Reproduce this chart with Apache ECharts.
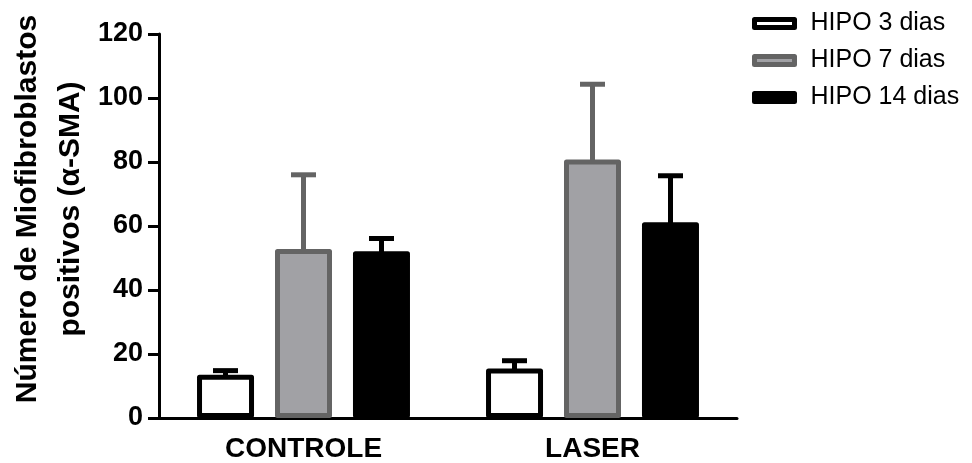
<!DOCTYPE html>
<html>
<head>
<meta charset="utf-8">
<script src="https://cdn.jsdelivr.net/npm/echarts@6/dist/echarts.min.js"></script>
<style>
  html, body { margin: 0; padding: 0; background: #ffffff; }
  #chart { width: 972px; height: 463px; }
</style>
</head>
<body>
<div id="chart"></div>
<script>
// Groups and series (mean + standard deviation)
const categories = ['CONTROLE', 'LASER'];
const seriesNames = ['HIPO 3 dias', 'HIPO 7 dias', 'HIPO 14 dias'];
const hipo3Mean = [13.5, 15.5];
const hipo3Sd = [1.3, 2.4];
const hipo7Mean = [52.8, 80.8];
const hipo7Sd = [23.2, 23.5];
const hipo14Mean = [52.1, 61.2];
const hipo14Sd = [4.0, 14.5];
const yTicks = [0, 20, 40, 60, 80, 100, 120];

const FONT = '"Liberation Sans", Arial, Helvetica, sans-serif';
const BAR_W = 57;
const STROKE = 5;
const barOffsets = [-78, 0, 78];

const fills = ['#ffffff', '#a1a1a5', '#000000'];
const borders = ['#000000', '#646464', '#000000'];
const means = [hipo3Mean, hipo7Mean, hipo14Mean];
const sds = [hipo3Sd, hipo7Sd, hipo14Sd];

const chart = echarts.init(document.getElementById('chart'), null, { renderer: 'canvas' });

const barSeries = seriesNames.map((name, i) => ({
  name: name,
  type: 'bar',
  barWidth: BAR_W,
  barGap: (21 / BAR_W * 100).toFixed(1) + '%',
  z: 3,
  itemStyle: {
    color: fills[i],
    borderColor: borders[i],
    borderWidth: STROKE,
    borderJoin: 'round'
  },
  emphasis: { disabled: true },
  data: means[i]
}));

// Upper error bars (mean to mean + SD, with a cap)
const errorSeries = seriesNames.map((name, i) => ({
  name: name + ' SD',
  type: 'custom',
  z: 2,
  silent: true,
  data: categories.map((c, k) => [k, means[i][k], sds[i][k]]),
  renderItem: function (params, api) {
    const k = api.value(0);
    const m = api.value(1);
    const s = api.value(2);
    const base = api.coord([k, m]);
    const top = api.coord([k, m + s]);
    const x = base[0] + barOffsets[i];
    const st = { stroke: borders[i], lineWidth: STROKE };
    return {
      type: 'group',
      children: [
        { type: 'line', shape: { x1: x, y1: base[1] + 3, x2: x, y2: top[1] }, style: st },
        { type: 'line', shape: { x1: x - 12.5, y1: top[1], x2: x + 12.5, y2: top[1] }, style: st }
      ]
    };
  }
}));

chart.setOption({
  animation: false,
  backgroundColor: '#ffffff',
  textStyle: { fontFamily: FONT },
  grid: { left: 159, right: 235, top: 34, bottom: 43, containLabel: false },
  legend: {
    data: seriesNames,
    orient: 'vertical',
    left: 747,
    top: 6,
    itemWidth: 40,
    itemHeight: 8,
    itemGap: 12,
    icon: 'rect',
    selectedMode: false,
    itemStyle: { borderWidth: STROKE },
    textStyle: {
      fontFamily: FONT,
      fontSize: 25,
      lineHeight: 25,
      color: '#000000',
      padding: [0, 0, 0, 11]
    }
  },
  graphic: [{
    type: 'text',
    x: 49,
    y: 209,
    rotation: Math.PI / 2,
    style: {
      text: 'Número de Miofibroblastos\npositivos (α-SMA)',
      font: 'bold 30px ' + FONT,
      fill: '#000000',
      align: 'center',
      verticalAlign: 'middle',
      lineHeight: 43
    }
  }],
  xAxis: {
    type: 'category',
    data: categories,
    boundaryGap: true,
    axisLine: { lineStyle: { color: '#000000', width: 3 } },
    axisTick: { alignWithLabel: true, length: 10, lineStyle: { color: '#000000', width: 3 } },
    axisLabel: { color: '#000000', fontFamily: FONT, fontWeight: 'bold', fontSize: 28, margin: 17 }
  },
  yAxis: {
    type: 'value',
    min: yTicks[0],
    max: yTicks[yTicks.length - 1],
    interval: yTicks[1] - yTicks[0],
    splitLine: { show: false },
    axisLine: { show: true, lineStyle: { color: '#000000', width: 3 } },
    axisTick: { show: true, length: 11, lineStyle: { color: '#000000', width: 3 } },
    axisLabel: { color: '#000000', fontFamily: FONT, fontWeight: 'bold', fontSize: 27, margin: 16 }
  },
  series: [...errorSeries, ...barSeries]
});
</script>
</body>
</html>
